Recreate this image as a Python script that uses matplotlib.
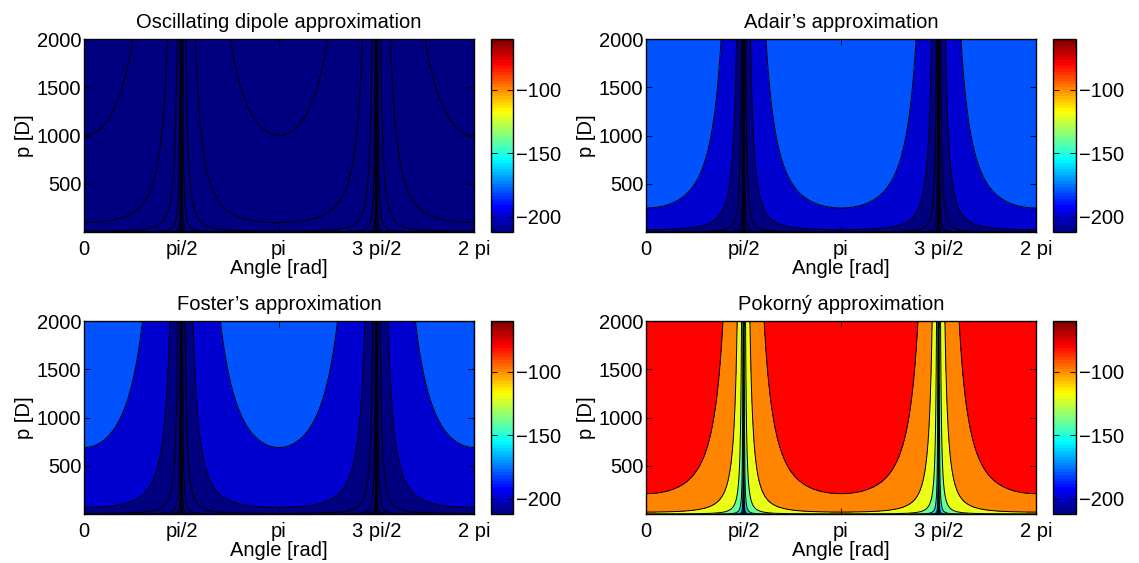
"""Received power vs dipole angle and dipole moment, four approximations.

Filled contours of the level in dB over angle [rad] and p [D].
"""
import numpy as np
import matplotlib
matplotlib.use("Agg")
import matplotlib.pyplot as plt
from matplotlib.colors import Normalize, LinearSegmentedColormap
from matplotlib.cm import ScalarMappable

plt.rcParams.update({"font.family": ["Liberation Sans", "DejaVu Sans"],
                     "font.size": 14.5})

TITLES = ["Oscillating dipole approximation", "Adair\u2019s approximation",
          "Foster\u2019s approximation", "Pokorn\u00fd approximation"]
# p [D] where a band boundary meets angle 0, and the level of that boundary
ANCHOR_P = [1000, 250, 690, 212]
ANCHOR_LEVEL = [-220, -180, -180, -80]
DB_PER_DECADE = 20
LEVELS = np.arange(-420, -59, 20)
CLIM = (-212, -60)
CBAR_TICKS = [-200, -150, -100]
XTICKS = [0, np.pi / 2, np.pi, 3 * np.pi / 2, 2 * np.pi]
XTICK_LABELS = ["0", "pi/2", "pi", "3 pi/2", "2 pi"]
YTICKS = [500, 1000, 1500, 2000]

# axes boxes in figure fractions (left, bottom, width, height)
AX_POS = [(0.0737, 0.5879, 0.3424, 0.3428), (0.5672, 0.5879, 0.3424, 0.3428),
          (0.0737, 0.0870, 0.3424, 0.3428), (0.5672, 0.0870, 0.3424, 0.3428)]
CB_POS = [(0.4311, 0.5879, 0.0195, 0.3428), (0.9245, 0.5879, 0.0200, 0.3428),
          (0.4311, 0.0870, 0.0195, 0.3428), (0.9245, 0.0870, 0.0200, 0.3428)]


def matlab_jet(n=64):
    # MATLAB-style jet (differs a bit from matplotlib's jet)
    cdict = {
        "red": [(0, 0, 0), (3 / 8, 0, 0), (5 / 8, 1, 1), (7 / 8, 1, 1),
                (1, 0.5, 0.5)],
        "green": [(0, 0, 0), (1 / 8, 0, 0), (3 / 8, 1, 1), (5 / 8, 1, 1),
                  (7 / 8, 0, 0), (1, 0, 0)],
        "blue": [(0, 0.5, 0.5), (1 / 8, 1, 1), (3 / 8, 1, 1), (5 / 8, 0, 0),
                 (1, 0, 0)],
    }
    return LinearSegmentedColormap("mjet", cdict, N=n)


def main():
    theta = np.linspace(0, 2 * np.pi, 1200)
    p = np.linspace(1, 2000, 500)
    T, P = np.meshgrid(theta, p)
    geom = P * np.cos(T) ** 2

    cmap = matlab_jet(64)
    norm = Normalize(*CLIM)
    band_colors = [cmap(norm(lv)) for lv in LEVELS[:-1]]

    fig = plt.figure(figsize=(11.39, 5.63), dpi=100)
    for i in range(4):
        ax = fig.add_axes(AX_POS[i])
        z = ANCHOR_LEVEL[i] + DB_PER_DECADE * np.log10(
            np.maximum(geom, 1e-30) / ANCHOR_P[i])
        z = np.clip(z, LEVELS[0] + 1, None)
        ax.contourf(T, P, z, levels=LEVELS, colors=band_colors)
        ax.contour(T, P, z, levels=LEVELS[1:], colors="black",
                   linewidths=0.7, linestyles="solid")
        ax.set_xlim(0, 2 * np.pi)
        ax.set_ylim(1, 2000)
        ax.set_xticks(XTICKS)
        ax.set_xticklabels(XTICK_LABELS)
        ax.set_yticks(YTICKS)
        ax.tick_params(direction="in", top=True, right=True, length=4,
                       width=0.6)
        ax.tick_params(axis="x", pad=6)
        ax.tick_params(axis="y", pad=2)
        for sp in ax.spines.values():
            sp.set_linewidth(1.0)
        ax.set_title(TITLES[i], fontsize=14.5, pad=8)
        ax.set_xlabel("Angle [rad]", labelpad=0)
        ax.set_ylabel("p [D]", labelpad=2)

        cax = fig.add_axes(CB_POS[i])
        cb = fig.colorbar(ScalarMappable(norm=norm, cmap=cmap), cax=cax)
        cb.set_ticks(CBAR_TICKS)
        cax.tick_params(direction="in", length=4, width=0.6, pad=2,
                        left=True, right=True)
        cb.outline.set_linewidth(1.0)

    fig.savefig("out.png", dpi=100)
    plt.close(fig)


if __name__ == "__main__":
    main()
